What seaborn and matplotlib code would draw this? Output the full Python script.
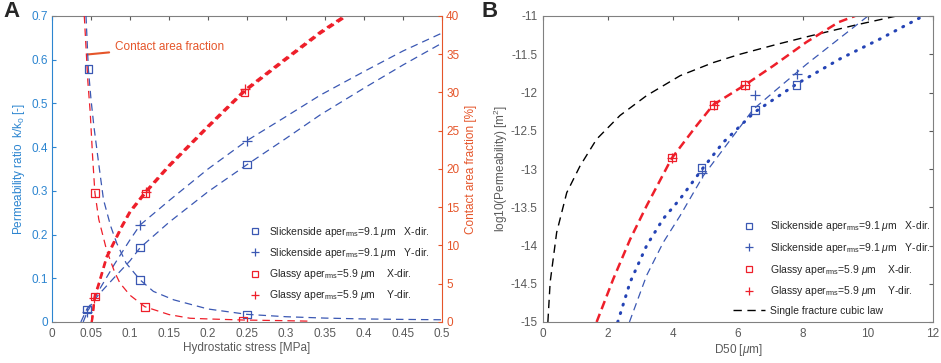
import numpy as np
import pandas as pd
import matplotlib
matplotlib.use("Agg")
import matplotlib.pyplot as plt
from matplotlib.lines import Line2D
from matplotlib.ticker import FuncFormatter, MultipleLocator
import seaborn as sns

# ---------------- Panel A data ----------------
# measured permeability ratio k/k0
slick_x_stress = [0.0445, 0.113, 0.25]
slick_x_ratio = [0.029, 0.170, 0.360]
slick_y_stress = [0.045, 0.113, 0.25]
slick_y_ratio = [0.022, 0.222, 0.415]
glassy_x_stress = [0.055, 0.12, 0.247]
glassy_x_ratio = [0.058, 0.294, 0.525]
glassy_y_stress = [0.054, 0.12, 0.248]
glassy_y_ratio = [0.055, 0.298, 0.532]

# measured contact area fraction [%]
contact_slick_stress = [0.0466, 0.113, 0.25]
contact_slick_pct = [33.1, 5.5, 1.0]
contact_glassy_stress = [0.055, 0.119, 0.245]
contact_glassy_pct = [16.9, 2.0, 0.17]

# fitted curves
fit_slick_x_s = [0.037, 0.0445, 0.06, 0.08, 0.1, 0.113, 0.15, 0.2, 0.25, 0.3, 0.344, 0.4, 0.45, 0.5]
fit_slick_x_r = [0.0, 0.029, 0.063, 0.102, 0.14, 0.17, 0.228, 0.298, 0.36, 0.42, 0.474, 0.535, 0.588, 0.638]
fit_slick_y_s = [0.04, 0.045, 0.06, 0.08, 0.1, 0.113, 0.151, 0.2, 0.25, 0.3, 0.344, 0.4, 0.45, 0.5]
fit_slick_y_r = [0.0, 0.022, 0.072, 0.132, 0.188, 0.222, 0.279, 0.35, 0.415, 0.47, 0.519, 0.573, 0.62, 0.661]
fit_glassy_s = [0.051, 0.055, 0.06, 0.07, 0.09, 0.1, 0.12, 0.15, 0.2, 0.247, 0.3, 0.344, 0.378]
fit_glassy_x_r = [0.0, 0.058, 0.085, 0.146, 0.218, 0.25, 0.295, 0.355, 0.445, 0.527, 0.6, 0.66, 0.7]
fit_glassy_y_r = [0.0, 0.061, 0.089, 0.150, 0.222, 0.254, 0.299, 0.359, 0.449, 0.531, 0.604, 0.664, 0.704]

fit_contact_slick_s = [0.0436, 0.0466, 0.05, 0.0538, 0.06, 0.066, 0.075, 0.083, 0.095, 0.113,
                       0.13, 0.156, 0.2, 0.25, 0.3, 0.35, 0.4, 0.45, 0.5]
fit_contact_slick_p = [40.0, 33.1, 29.1, 25.5, 20.6, 16.0, 12.6, 10.3, 7.7, 5.5,
                       4.0, 2.9, 1.7, 1.0, 0.69, 0.51, 0.40, 0.34, 0.29]
fit_contact_glassy_s = [0.0414, 0.046, 0.049, 0.052, 0.055, 0.06, 0.07, 0.08, 0.087, 0.1,
                        0.119, 0.15, 0.177, 0.2, 0.245, 0.3, 0.33]
fit_contact_glassy_p = [40.0, 31.4, 27.4, 21.7, 16.9, 13.4, 9.4, 6.6, 5.1, 3.5,
                        2.0, 0.97, 0.49, 0.40, 0.26, 0.17, 0.11]

# ---------------- Panel B data ----------------
glassy_d50 = [3.97, 5.25, 6.22]
glassy_logk = [-12.85, -12.16, -11.90]
slick_x_d50 = [4.88, 6.52, 7.80]
slick_x_logk = [-12.98, -12.23, -11.90]
slick_y_d50 = [4.90, 6.52, 7.80]
slick_y_logk = [-13.05, -12.03, -11.76]

cubic_d50 = [0.15, 0.22, 0.42, 0.73, 1.14, 1.65, 2.37, 3.19, 4.22, 5.23, 6.06, 7.2, 8.42, 9.6, 10.88]
cubic_logk = [-15, -14.48, -13.83, -13.31, -12.96, -12.61, -12.30, -12.04, -11.78, -11.61,
              -11.50, -11.37, -11.24, -11.12, -11.0]
glassy_fit_d50 = [1.65, 2.16, 2.68, 3.19, 3.96, 4.73, 5.24, 6.22, 7.09, 8.11, 9.1, 9.6]
glassy_fit_logk = [-15, -14.44, -13.92, -13.48, -12.86, -12.43, -12.16, -11.90, -11.65, -11.34, -11.08, -11.0]
slick_x_fit_d50 = [2.3, 2.68, 3.19, 3.7, 4.22, 4.9, 5.55, 6.5, 7.8, 9.14, 10.37, 11.7]
slick_x_fit_logk = [-15, -14.48, -14.0, -13.65, -13.39, -13.0, -12.65, -12.26, -11.89, -11.56, -11.30, -11.0]
slick_y_fit_d50 = [2.66, 3.19, 3.7, 4.22, 4.93, 5.55, 6.47, 7.3, 8.11, 9.1, 10.0]
slick_y_fit_logk = [-15, -14.39, -13.96, -13.61, -13.09, -12.74, -12.22, -11.92, -11.63, -11.30, -11.0]

BLUE = "#3b58b3"
DBLUE = "#2443b5"
RED = "#ee1f2a"
AXBLUE = "#2c85d0"
ORANGE = "#e5552a"
GREY = "#5a5a5a"
SPINE = "#808080"

sns.set_style("white")
plt.rcParams["font.family"] = ["Liberation Sans", "DejaVu Sans"]
plt.rcParams["mathtext.fontset"] = "custom"
plt.rcParams["mathtext.rm"] = "Liberation Sans"
plt.rcParams["mathtext.it"] = "Liberation Sans:italic"
plt.rcParams["font.size"] = 8.5

fmt = FuncFormatter(lambda v, p: f"{v:g}")
DASH = (0, (6, 4))


def line(ax, x, y, color, lw=0.9, ls=DASH, **kw):
    sns.lineplot(x=x, y=y, ax=ax, color=color, linewidth=lw, linestyle=ls,
                 sort=False, estimator=None, legend=False, **kw)


def squares(ax, x, y, color):
    ax.scatter(x, y, marker="s", s=30, facecolors="none", edgecolors=color, linewidths=0.9, zorder=5)


def plus(ax, x, y, color):
    sns.scatterplot(x=x, y=y, ax=ax, marker="+", s=45, color=color, linewidth=0.9, zorder=5, legend=False)


fig = plt.figure(figsize=(9.41, 3.63), dpi=100)

# ================= Panel A =================
axA = fig.add_axes([52 / 941, 41 / 363, 390 / 941, 306 / 363])
axA2 = axA.twinx()

line(axA, fit_slick_x_s, fit_slick_x_r, BLUE)
line(axA, fit_slick_y_s, fit_slick_y_r, BLUE)
line(axA, fit_glassy_s, fit_glassy_x_r, RED, lw=1.6, ls=(0, (3, 2)))
line(axA, fit_glassy_s, fit_glassy_y_r, RED, lw=1.6, ls=(0, (3, 2)))
squares(axA, slick_x_stress, slick_x_ratio, BLUE)
plus(axA, slick_y_stress, slick_y_ratio, BLUE)
squares(axA, glassy_x_stress, glassy_x_ratio, RED)
plus(axA, glassy_y_stress, glassy_y_ratio, RED)

line(axA2, fit_contact_slick_s, fit_contact_slick_p, BLUE)
line(axA2, fit_contact_glassy_s, fit_contact_glassy_p, RED)
squares(axA2, contact_slick_stress, contact_slick_pct, BLUE)
squares(axA2, contact_glassy_stress, contact_glassy_pct, RED)

axA.set_xlim(0, 0.5)
axA.set_ylim(0, 0.7)
axA2.set_ylim(0, 40)
axA.xaxis.set_major_locator(MultipleLocator(0.05))
axA.yaxis.set_major_locator(MultipleLocator(0.1))
axA2.yaxis.set_major_locator(MultipleLocator(5))
for a in (axA, axA2):
    a.xaxis.set_major_formatter(fmt)
    a.yaxis.set_major_formatter(fmt)

axA.set_xlabel("Hydrostatic stress [MPa]", color=GREY, labelpad=2)
axA.set_ylabel(r"Permeability ratio  k/k$_0$ [-]", color=AXBLUE, labelpad=3)
axA2.set_ylabel("Contact area fraction [%]", color=ORANGE, rotation=90, labelpad=4)

axA.tick_params(axis="x", direction="in", top=True, colors=GREY, length=3, pad=4)
axA.tick_params(axis="y", direction="in", colors=AXBLUE, length=3, pad=3)
axA2.tick_params(axis="y", direction="in", colors=ORANGE, length=3, pad=3)
for s in ("top", "bottom"):
    axA.spines[s].set_color(SPINE)
    axA2.spines[s].set_visible(False)
axA.spines["left"].set_color(AXBLUE)
axA.spines["right"].set_visible(False)
axA2.spines["left"].set_visible(False)
axA2.spines["right"].set_color(ORANGE)

axA.annotate("Contact area fraction", xy=(0.0455, 0.612), xytext=(0.081, 0.63),
             color=ORANGE, fontsize=8.5, va="center", ha="left",
             arrowprops=dict(arrowstyle="-", color=ORANGE, lw=1.5, shrinkA=2, shrinkB=0))

legA = [
    Line2D([], [], marker="s", ls="none", mfc="none", mec=BLUE, ms=5, mew=0.9,
           label=r"Slickenside aper$_{\mathrm{rms}}$=9.1 $\mu$m   X-dir."),
    Line2D([], [], marker="+", ls="none", mec=BLUE, ms=6, mew=0.9,
           label=r"Slickenside aper$_{\mathrm{rms}}$=9.1 $\mu$m   Y-dir."),
    Line2D([], [], marker="s", ls="none", mfc="none", mec=RED, ms=5, mew=0.9,
           label=r"Glassy aper$_{\mathrm{rms}}$=5.9 $\mu$m    X-dir."),
    Line2D([], [], marker="+", ls="none", mec=RED, ms=6, mew=0.9,
           label=r"Glassy aper$_{\mathrm{rms}}$=5.9 $\mu$m    Y-dir."),
]
axA2.legend(handles=legA, loc="lower left", bbox_to_anchor=(0.485, 0.047), frameon=False,
            fontsize=7.5, handlelength=1.6, handletextpad=0.6, labelspacing=0.69, borderpad=0)

# ================= Panel B =================
axB = fig.add_axes([543 / 941, 41 / 363, 390 / 941, 306 / 363])

line(axB, cubic_d50, cubic_logk, "black", lw=1.0)
line(axB, glassy_fit_d50, glassy_fit_logk, RED, lw=1.8, ls=(0, (3.5, 2)))
line(axB, slick_y_fit_d50, slick_y_fit_logk, BLUE, lw=0.9)
line(axB, slick_x_fit_d50, slick_x_fit_logk, DBLUE, lw=2.2, ls=(0, (0.3, 2.6)),
     dash_capstyle="round")
squares(axB, glassy_d50, glassy_logk, RED)
plus(axB, glassy_d50, glassy_logk, RED)
squares(axB, slick_x_d50, slick_x_logk, BLUE)
plus(axB, slick_y_d50, slick_y_logk, BLUE)

axB.set_xlim(0, 12)
axB.set_ylim(-15, -11)
axB.xaxis.set_major_locator(MultipleLocator(2))
axB.yaxis.set_major_locator(MultipleLocator(0.5))
axB.xaxis.set_major_formatter(fmt)
axB.yaxis.set_major_formatter(fmt)
axB.set_xlabel(r"D50 [$\mu$m]", color=GREY, labelpad=2)
axB.set_ylabel(r"log10(Permeability) [m$^2$]", color=GREY, labelpad=0)
axB.tick_params(direction="in", top=True, right=True, colors=GREY, length=3, pad=4)
for s in axB.spines.values():
    s.set_color(SPINE)

legB = legA + [Line2D([], [], color="black", lw=1.0, ls=DASH, label="Single fracture cubic law")]
axB.legend(handles=legB, loc="lower left", bbox_to_anchor=(0.474, 0.003), frameon=False,
           fontsize=7.5, handlelength=3.1, handletextpad=0.4, labelspacing=0.73, borderpad=0)

fig.text(0.004, 0.952, "A", fontsize=16, fontweight="bold", va="baseline")
fig.text(0.512, 0.952, "B", fontsize=16, fontweight="bold", va="baseline")

fig.savefig("out.png", dpi=100)
